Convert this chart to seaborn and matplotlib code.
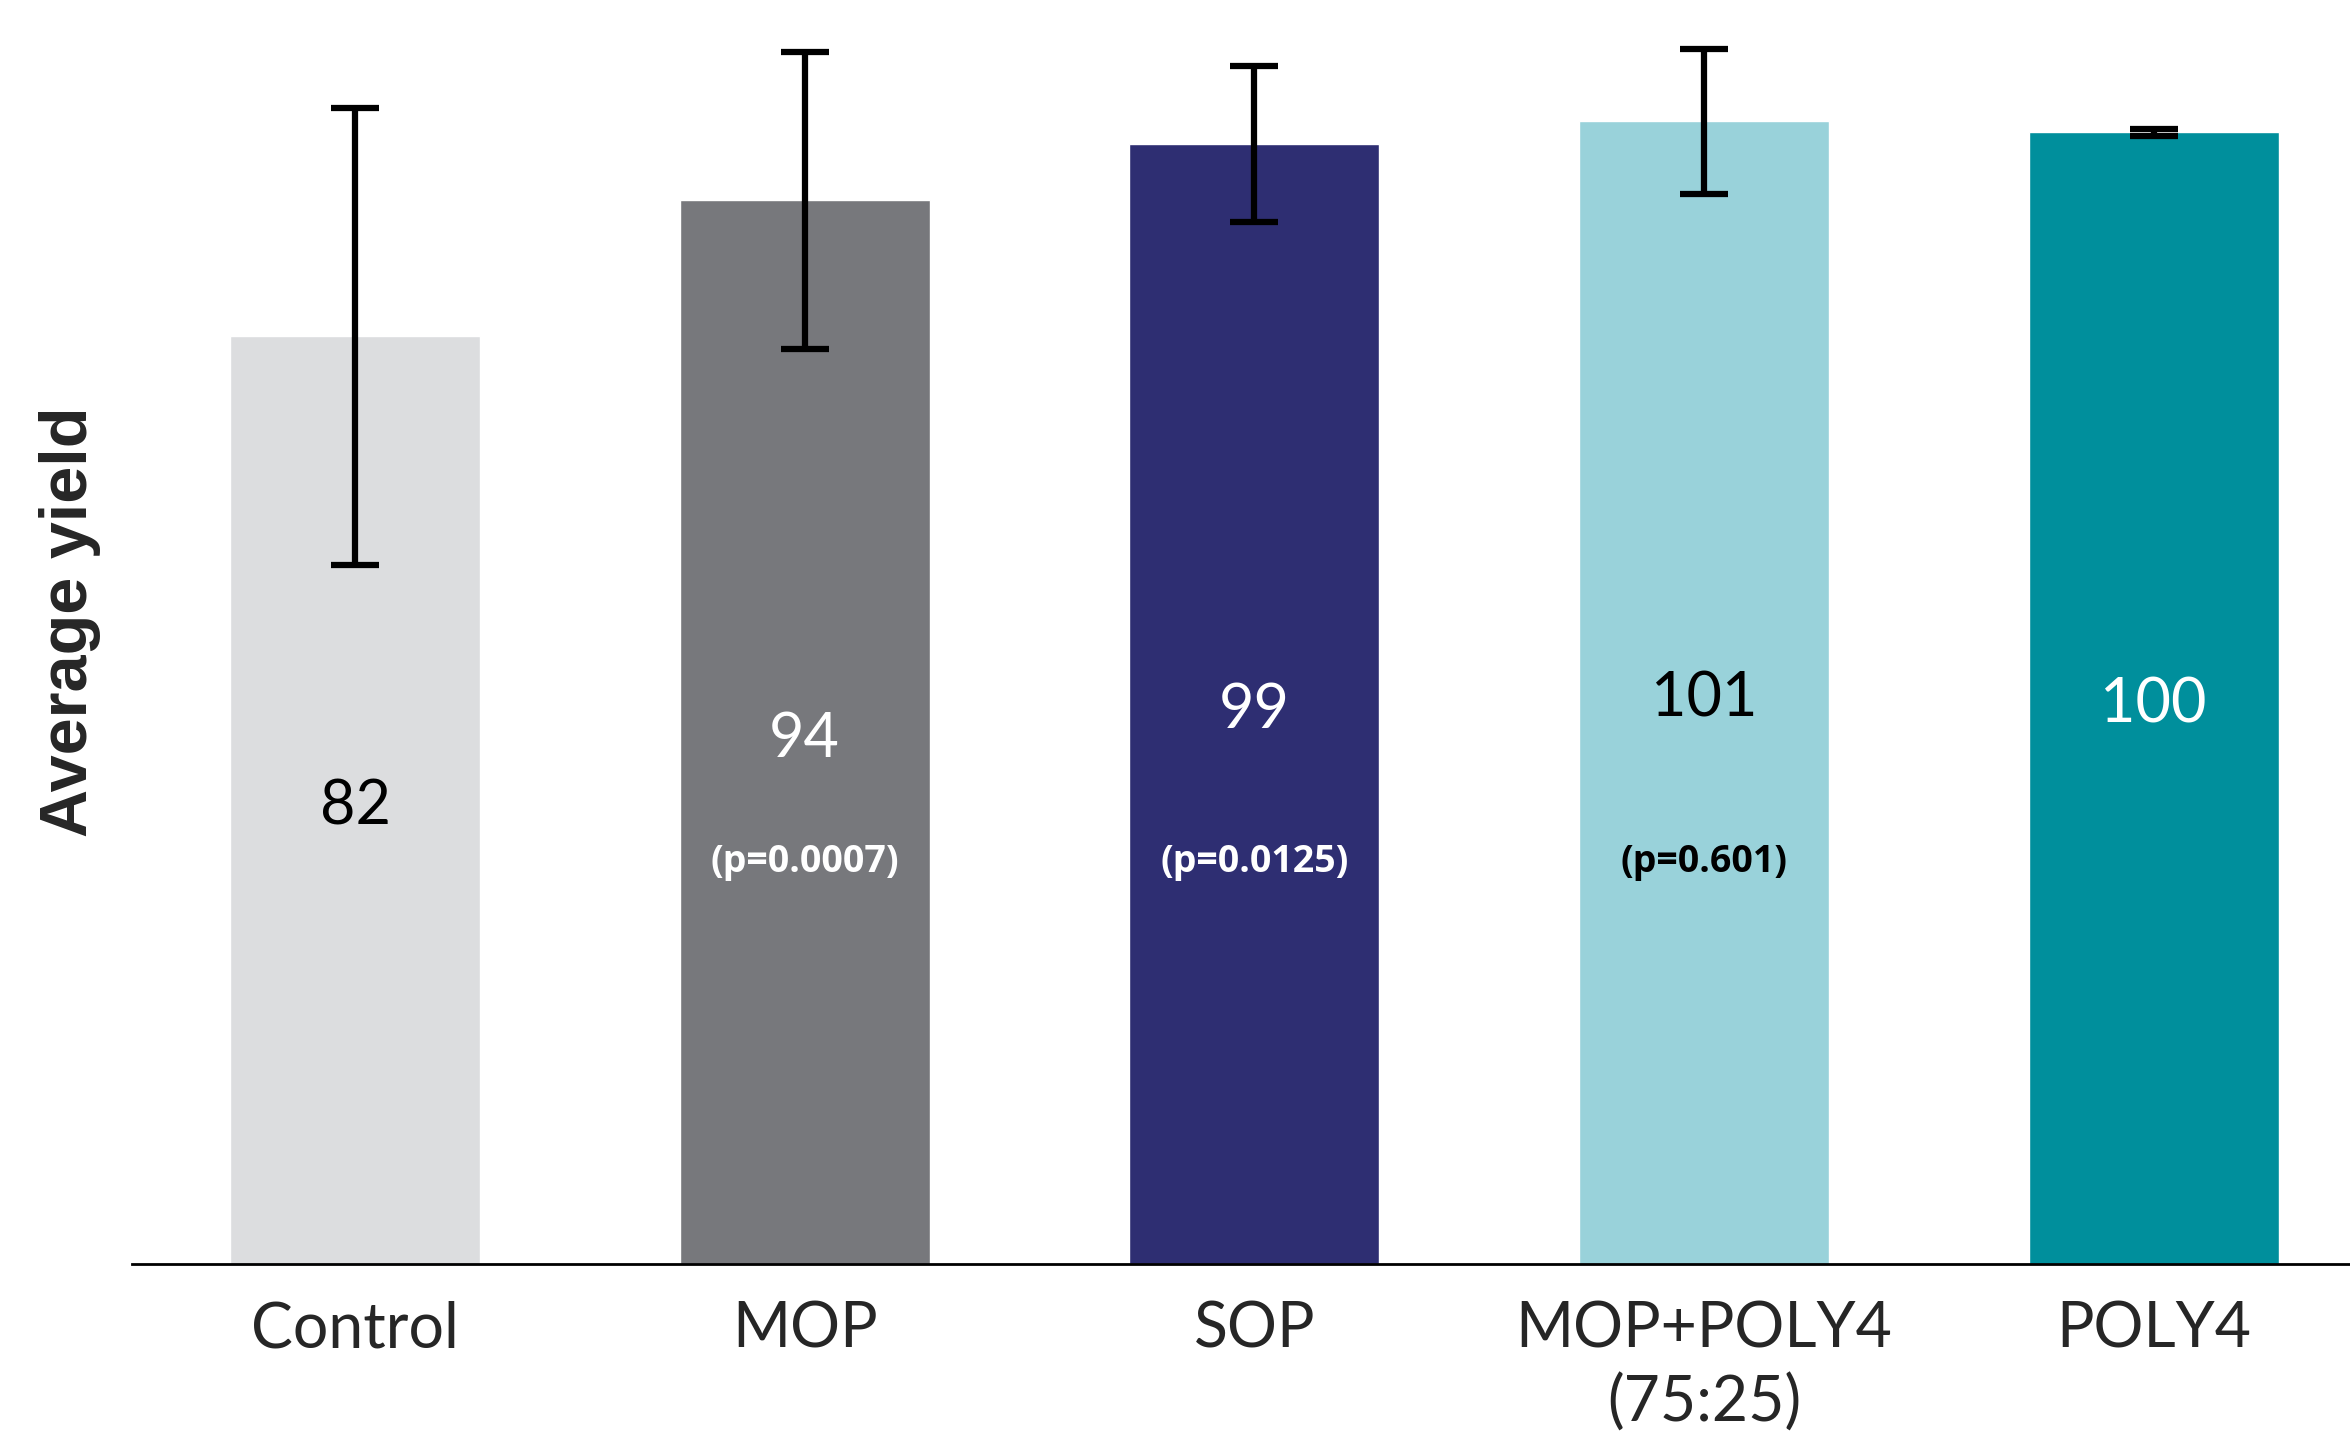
import matplotlib
matplotlib.use("Agg")
import matplotlib.pyplot as plt
import seaborn as sns
import pandas as pd
import numpy as np

categories = ["Control", "MOP", "SOP", "MOP+POLY4\n(75:25)", "POLY4"]
values = [82, 94, 99, 101, 100]
errors = [20.2, 13.1, 6.9, 6.4, 0.3]
pvalues = ["", "(p=0.0007)", "(p=0.0125)", "(p=0.601)", ""]
colors = ["#DCDDDF", "#77787C", "#2E2E72", "#99D2DA", "#008F9C"]
value_text_colors = ["black", "white", "white", "black", "white"]

sns.set_theme(style="white")
plt.rcParams['font.family'] = ['Lato', 'DejaVu Sans']

df = pd.DataFrame({"cat": categories, "val": values})

fig = plt.figure(figsize=(23.5, 14.35), dpi=100)
ax = fig.add_axes([0.056, 0.119, 0.944, 0.881])

sns.barplot(data=df, x="cat", y="val", hue="cat", palette=colors, order=categories,
            hue_order=categories, width=0.556, legend=False, ax=ax, saturation=1)

x = np.arange(len(categories))
ax.errorbar(x, values, yerr=errors, fmt="none", ecolor="black", elinewidth=4.5,
            capsize=17, capthick=4.5)

for i, (v, c, p) in enumerate(zip(values, value_text_colors, pvalues)):
    ax.text(i, v / 2 - 0.6, str(v), ha="center", va="center", fontsize=44, color=c)
    if p:
        ax.text(i, 35.5, p, ha="center", va="center", fontsize=27, color=c,
                fontweight="bold", family=["Open Sans", "DejaVu Sans"])

ax.set_xlim(-0.497, 4.437)
ax.set_ylim(0, 111.7)
ax.set_yticks([])
ax.set_xlabel("")
ax.set_ylabel("Average yield", fontsize=48, fontweight="bold",
              family=["Liberation Sans", "DejaVu Sans"])
ax.tick_params(axis="x", labelsize=45, length=0, pad=26)
for lbl in ax.get_xticklabels():
    lbl.set_linespacing(1.32)
for s in ["top", "right", "left"]:
    ax.spines[s].set_visible(False)
ax.spines["bottom"].set_color("black")
ax.spines["bottom"].set_linewidth(2)
ax.yaxis.set_label_coords(-0.014, 0.508)

fig.savefig("out.png", dpi=100)
